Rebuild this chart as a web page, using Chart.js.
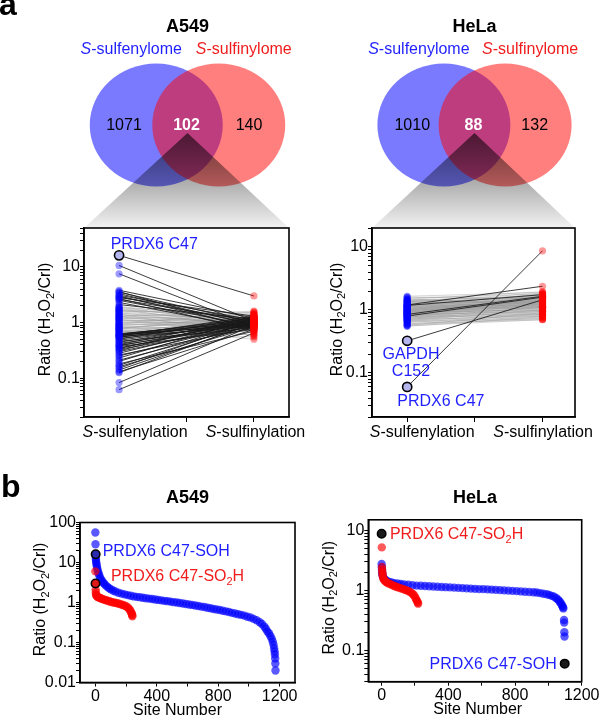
<!DOCTYPE html>
<html lang="en">
<head>
<meta charset="UTF-8">
<title>S-sulfenylome / S-sulfinylome</title>
<script src="https://cdn.jsdelivr.net/npm/chart.js"></script>
<style>
  body { margin: 0; background: #fff; }
  #figure { position: relative; width: 600px; height: 720px; overflow: hidden; }
  #figure canvas { position: absolute; }
</style>
</head>
<body>
<div id="figure">
  <canvas id="vennA549" width="300" height="230" style="left:0;top:0"></canvas>
  <canvas id="vennHela" width="300" height="230" style="left:300px;top:0"></canvas>
  <canvas id="pairA549" width="320" height="250" style="left:0;top:220px"></canvas>
  <canvas id="pairHela" width="300" height="250" style="left:300px;top:220px"></canvas>
  <canvas id="rankA549" width="300" height="250" style="left:0;top:470px"></canvas>
  <canvas id="rankHela" width="300" height="250" style="left:300px;top:470px"></canvas>
</div>
<script>
// ---- labels ----
const cellLines = ['A549', 'HeLa'];
const vennSets = ['S-sulfenylome', 'S-sulfinylome'];
const pairCategories = ['S-sulfenylation', 'S-sulfinylation'];
const ratioTitle = 'Ratio (H2O2/Crl)';
const siteTitle = 'Site Number';
const pairTickLabels = [0.1, 1, 10];
const a549RankTickLabels = [0.01, 0.1, 1, 10, 100];
const helaRankTickLabels = [0.1, 1, 10];
const siteTickLabels = [0, 400, 800, 1200];
const siteMinorTicks = [200, 600, 1000];

// ---- venn counts: only sulfenyl, both, only sulfinyl ----
const a549VennCounts = [1071, 102, 140];
const helaVennCounts = [1010, 88, 132];

// ---- paired ratios, A549 ----
const a549MarkedSites = ['PRDX6 C47'];
const a549MarkedSulfenyl = [16.1];
const a549MarkedSulfinyl = [3.0];
const a549ChangedSulfenyl = [10.6, 7.5, 3.8, 3.6, 3.5, 3.3, 3.1, 3.0, 2.9, 2.8, 2.7, 2.6, 2.5, 2.3, 2.1,
  0.63, 0.62, 0.61, 0.6, 0.59, 0.58, 0.57, 0.56, 0.55, 0.54, 0.52, 0.5, 0.48, 0.46, 0.44, 0.42, 0.4, 0.39, 0.38, 0.37,
  0.35, 0.34, 0.33, 0.31, 0.3, 0.28, 0.26, 0.25, 0.23, 0.21, 0.2, 0.18, 0.17, 0.16, 0.15, 0.14, 0.13, 0.125, 0.083, 0.062];
const a549ChangedSulfinyl = [1.05, 0.85, 1.2, 0.75, 1.0, 0.9, 1.1, 0.8, 0.95, 1.3, 0.7, 1.05, 0.88, 0.78, 1.15,
  1.0, 1.1, 0.9, 1.2, 0.95, 1.05, 1.3, 0.85, 1.0, 1.15, 0.9, 1.25, 1.0, 0.8, 1.1, 0.95, 1.2, 0.9, 1.05, 0.75,
  1.0, 1.15, 0.85, 1.3, 0.95, 1.1, 0.8, 1.0, 1.2, 0.9, 1.05, 0.7, 1.0, 0.85, 1.1, 0.95, 0.75, 1.0, 0.9, 0.65];
const a549StableSulfenyl = [1.95, 1.9, 1.85, 1.8, 1.75, 1.7, 1.65, 1.62, 1.6, 1.55, 1.5, 1.45, 1.42, 1.4, 1.35, 1.3,
  1.28, 1.27, 1.24, 1.2, 1.17, 1.14, 1.12, 1.1, 1.07, 1.04, 1.0, 0.98, 0.95, 0.93, 0.92, 0.9, 0.87, 0.85, 0.84, 0.82,
  0.8, 0.78, 0.77, 0.76, 0.74, 0.72, 0.7, 0.69, 0.68, 0.66];
const a549StableSulfinyl = [1.1, 0.9, 1.3, 1.0, 0.8, 1.2, 0.95, 1.5, 1.4, 1.05, 0.85, 1.15, 0.58, 0.9, 1.25, 1.0,
  1.6, 0.75, 1.1, 0.95, 1.35, 0.85, 0.65, 1.05, 1.2, 0.9, 1.0, 1.45, 0.8, 1.55, 1.1, 0.95, 1.25, 0.7, 0.5, 1.0,
  1.15, 0.88, 1.4, 1.3, 0.98, 0.6, 1.08, 0.55, 0.9, 1.2];

// ---- paired ratios, HeLa ----
const helaMarkedSites = ['GAPDH C152', 'PRDX6 C47'];
const helaMarkedSulfenyl = [0.324, 0.06];
const helaMarkedSulfinyl = [1.45, 8.7];
const helaChangedSulfenyl = [1.2, 1.18, 0.85, 0.8];
const helaChangedSulfinyl = [2.38, 1.75, 1.65, 1.6];
const helaStableSulfenyl = [1.65, 1.6, 1.55, 1.5, 1.48, 1.45, 1.42, 1.4, 1.38, 1.36, 1.34, 1.32, 1.3, 1.28, 1.26,
  1.24, 1.22, 1.2, 1.19, 1.18, 1.16, 1.15, 1.14, 1.13, 1.12, 1.1, 1.09, 1.08, 1.07, 1.06, 1.05, 1.04, 1.03, 1.02,
  1.01, 1.0, 0.99, 0.98, 0.97, 0.97, 0.96, 0.95, 0.94, 0.93, 0.93, 0.92, 0.91, 0.9, 0.89, 0.88, 0.88, 0.87, 0.86,
  0.85, 0.84, 0.83, 0.82, 0.81, 0.8, 0.8, 0.79, 0.78, 0.77, 0.76, 0.75, 0.74, 0.73, 0.72, 0.71, 0.7, 0.69, 0.68,
  0.67, 0.66, 0.65, 0.63, 0.61, 0.6, 0.58, 0.57, 0.56, 0.55];
const helaStableSulfinyl = [1.9, 1.5, 1.8, 1.2, 1.95, 1.6, 1.35, 1.7, 1.1, 1.55, 1.85, 1.3, 1.65, 1.45, 1.0,
  1.75, 1.4, 1.25, 1.6, 1.5, 1.15, 1.8, 1.35, 1.05, 1.55, 1.3, 1.7, 1.2, 1.45, 0.95, 1.6, 1.4, 1.25, 1.5,
  1.1, 1.35, 1.65, 1.2, 1.45, 0.9, 1.3, 1.55, 1.15, 1.4, 1.0, 1.25, 1.5, 1.1, 1.35, 0.85, 1.2, 1.45, 1.05,
  1.3, 0.95, 1.2, 1.4, 1.0, 1.15, 0.8, 1.3, 0.9, 1.1, 1.25, 0.85, 1.0, 1.15, 0.78, 0.95, 1.1, 0.82, 1.0,
  0.75, 0.9, 0.72, 0.85, 0.7, 0.8, 0.74, 0.9, 0.7, 0.78];

// ---- ranked sites, A549 ----
const a549SohSite = [0, 1, 3, 4, 5, 7, 9, 11, 14, 18, 22, 27, 33, 40, 48, 56, 65, 76, 88, 100, 115, 130, 150, 170, 190,
  210, 230, 250, 270, 290, 310, 330, 350, 370, 390, 410, 430, 450, 470, 490, 510, 530, 550, 570, 590, 610, 630, 650,
  670, 690, 710, 730, 750, 770, 790, 810, 830, 850, 870, 890, 910, 930, 950, 970, 990, 1010, 1030, 1050, 1070, 1085,
  1100, 1110, 1120, 1130, 1140, 1148, 1155, 1160, 1164, 1167, 1169, 1171, 1172, 1173];
const a549SohRatio = [56, 28.6, 13, 11.5, 10.3, 9.3, 8.3, 7.4, 6.6, 5.8, 5.2, 4.6, 4.0, 3.6, 3.25, 3.0, 2.75, 2.5, 2.3,
  2.15, 2.0, 1.88, 1.76, 1.67, 1.6, 1.53, 1.47, 1.42, 1.38, 1.35, 1.31, 1.28, 1.25, 1.22, 1.19, 1.16, 1.13, 1.1, 1.08,
  1.05, 1.02, 1.0, 0.97, 0.94, 0.92, 0.89, 0.87, 0.84, 0.82, 0.79, 0.77, 0.74, 0.72, 0.69, 0.67, 0.65, 0.62, 0.6, 0.58,
  0.55, 0.53, 0.51, 0.49, 0.47, 0.44, 0.42, 0.39, 0.36, 0.32, 0.29, 0.25, 0.22, 0.19, 0.17, 0.145, 0.125, 0.105, 0.088,
  0.072, 0.06, 0.05, 0.04, 0.03, 0.02];
const a549So2hSite = [0, 2, 3, 4, 6, 9, 13, 18, 24, 30, 38, 46, 55, 65, 75, 85, 95, 105, 115, 125, 135, 145, 155, 165,
  175, 185, 195, 205, 213, 220, 226, 231, 235, 238, 240, 241];
const a549So2hRatio = [6.0, 2.1, 1.8, 1.6, 1.5, 1.45, 1.4, 1.36, 1.33, 1.3, 1.26, 1.22, 1.18, 1.15, 1.12, 1.09, 1.06,
  1.03, 1.01, 0.99, 0.97, 0.95, 0.93, 0.9, 0.88, 0.85, 0.82, 0.78, 0.74, 0.69, 0.64, 0.59, 0.55, 0.51, 0.48, 0.45];
const a549MarkedForm = ['SOH', 'SO2H'];
const a549MarkedSite = [2, 1];
const a549MarkedRatio = [16.1, 3.0];

// ---- ranked sites, HeLa ----
const helaSohSite = [0, 1, 2, 3, 4, 6, 9, 13, 18, 25, 33, 45, 60, 75, 95, 115, 135, 160, 185, 210, 235, 260, 285, 310,
  335, 360, 385, 410, 435, 460, 485, 510, 535, 560, 585, 610, 635, 660, 685, 710, 735, 760, 785, 810, 835, 860, 885,
  910, 930, 950, 970, 990, 1005, 1020, 1035, 1048, 1058, 1066, 1073, 1079, 1084, 1088, 1090, 1094, 1095, 1096, 1097];
const helaSohRatio = [2.75, 2.45, 2.2, 2.0, 1.88, 1.76, 1.66, 1.58, 1.52, 1.46, 1.42, 1.38, 1.35, 1.32, 1.3, 1.28, 1.26,
  1.24, 1.22, 1.2, 1.19, 1.18, 1.17, 1.16, 1.15, 1.14, 1.13, 1.12, 1.11, 1.1, 1.09, 1.08, 1.07, 1.06, 1.05, 1.05, 1.04,
  1.03, 1.02, 1.01, 1.0, 0.99, 0.98, 0.97, 0.96, 0.95, 0.94, 0.93, 0.92, 0.9, 0.88, 0.86, 0.84, 0.81, 0.78, 0.74, 0.7,
  0.66, 0.62, 0.58, 0.55, 0.52, 0.5, 0.32, 0.29, 0.2, 0.17];
const helaSo2hSite = [1, 2, 3, 4, 5, 7, 10, 14, 19, 25, 32, 40, 50, 60, 70, 80, 90, 100, 110, 120, 130, 140, 150, 160,
  170, 180, 188, 195, 201, 206, 210, 214, 217, 219];
const helaSo2hRatio = [5.2, 2.45, 2.2, 2.0, 1.85, 1.7, 1.58, 1.5, 1.44, 1.39, 1.35, 1.31, 1.27, 1.24, 1.2, 1.17, 1.14,
  1.12, 1.09, 1.07, 1.05, 1.02, 1.0, 0.97, 0.94, 0.9, 0.86, 0.82, 0.77, 0.72, 0.68, 0.65, 0.62, 0.6];
const helaMarkedForm = ['SO2H', 'SOH'];
const helaMarkedSite = [0, 1098];
const helaMarkedRatio = [8.8, 0.06];

// ---- style ----
const FONT = "'Liberation Sans', Arial, Helvetica, sans-serif";
const BLUE_TXT = '#1f1fff';
const RED_TXT = '#f01c1c';
Chart.defaults.font.family = FONT;
Chart.defaults.font.size = 16;
Chart.defaults.color = '#000';
Chart.defaults.animation = false;
Chart.defaults.events = [];
Chart.defaults.responsive = false;
Chart.defaults.layout.autoPadding = false;
Chart.defaults.plugins.legend.display = false;
Chart.defaults.plugins.tooltip.enabled = false;

// "S-" in italics, digits after H or O as subscripts
function fmt(s) {
  const out = [];
  let i = 0, buf = '';
  if (s.startsWith('S-')) { out.push(['S', 'i']); i = 1; }
  for (; i < s.length; i++) {
    const c = s[i];
    if (/\d/.test(c) && /[HO]/.test(s[i - 1] || '')) {
      if (buf) out.push([buf, '']);
      buf = '';
      out.push([c, 's']);
    } else buf += c;
  }
  if (buf) out.push([buf, '']);
  return out;
}

function rich(ctx, parts, x, y, opt = {}) {
  const size = opt.size || 16;
  const font = p => (p[1] === 'i' ? 'italic ' : '') + (opt.bold ? 'bold ' : '') +
    (p[1] === 's' ? Math.round(size * 0.68) : size) + 'px ' + FONT;
  ctx.save();
  ctx.textBaseline = 'alphabetic';
  ctx.textAlign = 'left';
  ctx.fillStyle = opt.color || '#000';
  let w = 0;
  for (const p of parts) { ctx.font = font(p); w += ctx.measureText(p[0]).width; }
  let cx = opt.align === 'center' ? x - w / 2 : opt.align === 'right' ? x - w : x;
  for (const p of parts) {
    ctx.font = font(p);
    ctx.fillText(p[0], cx, y + (p[1] === 's' ? size * 0.22 : 0));
    cx += ctx.measureText(p[0]).width;
  }
  ctx.restore();
}

function yTitle(chart, gap) {
  const { ctx, chartArea: a } = chart;
  ctx.save();
  ctx.translate(a.left - gap, (a.top + a.bottom) / 2 - 3);
  ctx.rotate(-Math.PI / 2);
  rich(ctx, fmt(ratioTitle), 0, 0, { align: 'center' });
  ctx.restore();
}

const framePlugin = {
  id: 'frame',
  afterDraw(chart) {
    const { ctx, chartArea: a } = chart;
    ctx.save();
    ctx.strokeStyle = '#000';
    ctx.lineWidth = 1.6;
    ctx.strokeRect(a.left, a.top, a.right - a.left, a.bottom - a.top);
    ctx.restore();
  }
};

function logAxis(min, max, labels, width) {
  return {
    type: 'logarithmic', min, max,
    afterBuildTicks: s => {
      s.ticks = s.ticks.filter(t => {
        const m = t.value / Math.pow(10, Math.floor(Math.log10(t.value) + 1e-9));
        return Math.abs(m - Math.round(m)) < 1e-6;
      });
    },
    afterFit: s => { s.width = width; s.paddingTop = 0; s.paddingBottom = 0; },
    ticks: {
      autoSkip: false, padding: 0,
      callback: v => {
        const hit = labels.find(t => Math.abs(v - t) < t * 1e-6);
        return hit === undefined ? '' : String(hit);
      }
    },
    grid: { drawOnChartArea: false, tickLength: 4, color: '#000' },
    border: { color: '#000', width: 1.6 }
  };
}

function linAxis(min, max, ticks, labels, height, tickLength) {
  return {
    type: 'linear', min, max,
    afterBuildTicks: s => { s.ticks = ticks.map(v => ({ value: v })); },
    afterFit: s => { s.height = height; s.paddingLeft = 0; s.paddingRight = 0; },
    ticks: { autoSkip: false, maxRotation: 0, minRotation: 0, padding: 0,
      callback: v => labels.includes(v) ? String(v) : '' },
    grid: { drawOnChartArea: false, tickLength, color: '#000' },
    border: { color: '#000', width: 1.6 }
  };
}

// ---- venn diagrams ----
const VENN_SQUASH = 0.925;
const squashPlugin = {
  id: 'squash',
  beforeDatasetsDraw(chart) {
    const ctx = chart.ctx, cy = chart.scales.y.getPixelForValue(0);
    ctx.save();
    ctx.translate(0, cy);
    ctx.scale(1, VENN_SQUASH);
    ctx.translate(0, -cy);
  },
  afterDatasetsDraw(chart) { chart.ctx.restore(); }
};

function vennChart(id, title, counts, xMin, xMax, funnel, letter) {
  new Chart(document.getElementById(id), {
    type: 'bubble',
    data: {
      datasets: [{
        data: vennSets.map((s, i) => ({ x: i, y: 0 })),
        backgroundColor: ['rgba(0,0,255,0.52)', 'rgba(255,0,0,0.5)'],
        borderWidth: 0,
        radius: 66.5,
        clip: false
      }]
    },
    options: {
      devicePixelRatio: 1,
      layout: { autoPadding: false, padding: { top: 20 } },
      scales: {
        x: { display: false, min: xMin, max: xMax },
        y: { display: false, min: -1, max: 1 }
      }
    },
    plugins: [squashPlugin, {
      id: 'vennText',
      afterDraw(chart) {
        const { ctx, scales: { x, y } } = chart;
        const cy = y.getPixelForValue(0);
        const xc = x.getPixelForValue(0.5);
        // zoom funnel down to the paired plot
        const g = ctx.createLinearGradient(0, cy + 8, 0, funnel[2]);
        g.addColorStop(0, 'rgba(0,0,0,0.6)');
        g.addColorStop(0.5, 'rgba(0,0,0,0.33)');
        g.addColorStop(1, 'rgba(0,0,0,0.05)');
        ctx.save();
        ctx.beginPath();
        ctx.moveTo(xc, cy + 8);
        ctx.lineTo(funnel[1], funnel[2]);
        ctx.lineTo(funnel[0], funnel[2]);
        ctx.closePath();
        ctx.fillStyle = g;
        ctx.fill();
        ctx.restore();

        rich(ctx, [[title, '']], xc, 32, { size: 18, bold: true, align: 'center' });
        rich(ctx, fmt(vennSets[0]), x.getPixelForValue(0) - 25, 54, { color: BLUE_TXT, align: 'center' });
        rich(ctx, fmt(vennSets[1]), x.getPixelForValue(1) + 25, 54, { color: RED_TXT, align: 'center' });
        [-0.5, 0.5, 1.5].forEach((p, i) => {
          rich(ctx, [[String(counts[i]), '']], x.getPixelForValue(p) - 1, cy + 5,
            { align: 'center', bold: i === 1, color: i === 1 ? '#fff' : '#000' });
        });
        if (letter) rich(ctx, [[letter, '']], -1, 15, { size: 32, bold: true });
      }
    }]
  });
}

vennChart('vennA549', cellLines[0], a549VennCounts, -2.5, 2.3, [84, 289, 228], 'a');
vennChart('vennHela', cellLines[1], helaVennCounts, -2.35, 2.55, [72, 275, 228], null);

// ---- paired plots ----
function pairLines(l, r) {
  return l.flatMap((v, i) => [{ x: 0, y: v }, { x: 1, y: r[i] }, { x: 0.5, y: null }]);
}

function pairChart(id, o) {
  const darkL = [...o.markL, ...o.chL], darkR = [...o.markR, ...o.chR];
  new Chart(document.getElementById(id), {
    type: 'scatter',
    data: {
      datasets: [
        { data: o.markL.map(v => ({ x: 0, y: v })), backgroundColor: '#b6b6ef', borderColor: '#000',
          borderWidth: 1.6, pointRadius: 4.6 },
        { data: [...darkR, ...o.stR].map(v => ({ x: 1, y: v })), backgroundColor: 'rgba(255,0,0,0.4)',
          borderWidth: 0, pointRadius: 3.6 },
        { data: [...o.chL, ...o.stL].map(v => ({ x: 0, y: v })), backgroundColor: 'rgba(0,0,255,0.4)',
          borderWidth: 0, pointRadius: 3.6 },
        { type: 'line', data: pairLines(darkL, darkR), borderColor: 'rgba(25,25,25,0.85)', borderWidth: 1,
          pointRadius: 0, spanGaps: false },
        { type: 'line', data: pairLines(o.stL, o.stR), borderColor: 'rgba(150,150,150,0.45)', borderWidth: 0.9,
          pointRadius: 0, spanGaps: false }
      ]
    },
    options: {
      devicePixelRatio: 1,
      layout: { autoPadding: false, padding: { left: o.padL, top: 8, right: o.padR, bottom: 0 } },
      scales: {
        x: linAxis(-0.26, o.xMax, [0, 0.5, 1], [], 53, 5),
        y: logAxis(0.02, o.yMax, pairTickLabels, o.yw)
      }
    },
    plugins: [framePlugin, {
      id: 'pairText',
      afterDraw(chart) {
        const { ctx, chartArea: a, scales: { x, y } } = chart;
        yTitle(chart, o.titleGap);
        pairCategories.forEach((c, i) =>
          rich(ctx, fmt(c), x.getPixelForValue(i) + o.catDx[i], a.bottom + 20, { align: 'center' }));
        o.notes.forEach((n, k) => {
          const px = x.getPixelForValue(0), py = y.getPixelForValue(o.markL[k]);
          const lines = n.wrap ? o.names[k].split(' ') : [o.names[k]];
          lines.forEach((t, j) => rich(ctx, fmt(t), px + n.dx, py + n.dy + j * 16.5, { align: n.align, color: BLUE_TXT }));
        });
      }
    }]
  });
}

pairChart('pairA549', {
  names: a549MarkedSites, markL: a549MarkedSulfenyl, markR: a549MarkedSulfinyl,
  chL: a549ChangedSulfenyl, chR: a549ChangedSulfinyl, stL: a549StableSulfenyl, stR: a549StableSulfinyl,
  padL: 30, yw: 54, padR: 31, xMax: 1.26, yMax: 50, titleGap: 34, catDx: [16, 1.5],
  notes: [{ dx: -8.4, dy: -6, align: 'left' }]
});
pairChart('pairHela', {
  names: helaMarkedSites, markL: helaMarkedSulfenyl, markR: helaMarkedSulfinyl,
  chL: helaChangedSulfenyl, chR: helaChangedSulfinyl, stL: helaStableSulfenyl, stR: helaStableSulfinyl,
  padL: 20, yw: 52, padR: 25, xMax: 1.24, yMax: 20, titleGap: 30.4, catDx: [15, 0.5],
  notes: [{ dx: 3.8, dy: 18.2, align: 'center', wrap: true }, { dx: -9.9, dy: 19.5, align: 'left' }]
});

// ---- ranked plots ----
function xy(sites, ratios) { return sites.map((s, i) => ({ x: s, y: ratios[i] })); }

function rankChart(id, o) {
  new Chart(document.getElementById(id), {
    type: 'scatter',
    data: {
      datasets: [
        { data: xy(o.markSite, o.markRatio), backgroundColor: o.markFill, borderColor: '#000',
          borderWidth: 1.6, pointRadius: 4.2 },
        { data: xy(o.so2hSite, o.so2hRatio), backgroundColor: 'rgba(255,0,0,0.65)', borderWidth: 0, pointRadius: 4.2 },
        { data: xy(o.sohSite, o.sohRatio), backgroundColor: 'rgba(0,0,255,0.65)', borderWidth: 0, pointRadius: 4.2 }
      ]
    },
    options: {
      devicePixelRatio: 1,
      layout: { autoPadding: false, padding: { left: o.padL, top: o.padT, right: o.padR, bottom: 0 } },
      scales: {
        x: linAxis(o.xMin, o.xMax, [...siteTickLabels, ...siteMinorTicks].sort((a, b) => a - b),
          siteTickLabels, o.xh, 4),
        y: logAxis(o.yMin, o.yMax, o.yTicks, o.yw)
      }
    },
    plugins: [framePlugin, {
      id: 'rankText',
      afterDraw(chart) {
        const { ctx, chartArea: a, scales: { x, y } } = chart;
        yTitle(chart, o.titleGap);
        rich(ctx, [[siteTitle, '']], (a.left + a.right) / 2 + o.xTitleDx, a.bottom + 32.5, { align: 'center' });
        rich(ctx, [[o.title, '']], (a.left + a.right) / 2, 33, { size: 18, bold: true, align: 'center' });
        if (o.letter) rich(ctx, [[o.letter, '']], 1, 27, { size: 32, bold: true });
        o.notes.forEach((n, k) => {
          const px = x.getPixelForValue(o.markSite[k]), py = y.getPixelForValue(o.markRatio[k]);
          const form = o.markForm[k];
          rich(ctx, fmt('PRDX6 C47-' + form), px + n.dx, py + n.dy,
            { align: n.align, color: form === 'SOH' ? BLUE_TXT : RED_TXT });
        });
      }
    }]
  });
}

rankChart('rankA549', {
  title: cellLines[0], letter: 'b',
  sohSite: a549SohSite, sohRatio: a549SohRatio, so2hSite: a549So2hSite, so2hRatio: a549So2hRatio,
  markSite: a549MarkedSite, markRatio: a549MarkedRatio, markForm: a549MarkedForm, markFill: ['#2b2bb0', '#e01818'],
  xMin: -100, xMax: 1300, yMin: 0.01, yMax: 100, yTicks: a549RankTickLabels,
  padL: 26, yw: 54, padR: 5, padT: 52.5, xh: 37.5, titleGap: 35, xTitleDx: -10,
  notes: [{ dx: 7, dy: 2, align: 'left' }, { dx: 15.4, dy: -2, align: 'left' }]
});
rankChart('rankHela', {
  title: cellLines[1], letter: null,
  sohSite: helaSohSite, sohRatio: helaSohRatio, so2hSite: helaSo2hSite, so2hRatio: helaSo2hRatio,
  markSite: helaMarkedSite, markRatio: helaMarkedRatio, markForm: helaMarkedForm, markFill: ['#1a1a1a', '#1a1a1a'],
  xMin: -80, xMax: 1200, yMin: 0.03, yMax: 15, yTicks: helaRankTickLabels,
  padL: 16, yw: 52.3, padR: 18.3, padT: 49.8, xh: 38.3, titleGap: 34.4, xTitleDx: 2.7,
  notes: [{ dx: 8.3, dy: 5.7, align: 'left' }, { dx: -8, dy: 5, align: 'right' }]
});
</script>
</body>
</html>
